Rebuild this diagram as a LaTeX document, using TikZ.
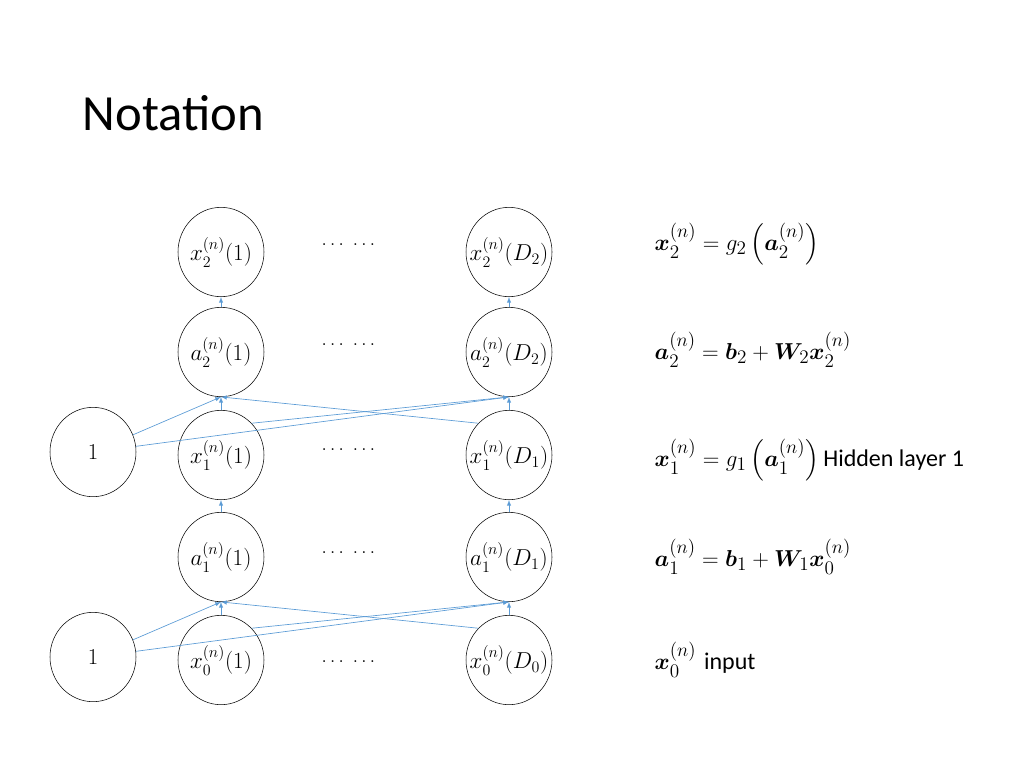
\documentclass[tikz,border=0pt]{standalone}
\usepackage{amsmath,bm}
\usepackage{fontspec}
\setsansfont{Carlito}
\usetikzlibrary{shapes.geometric}
\begin{document}
\begin{tikzpicture}[x=0.75pt,y=-0.75pt,
  neur/.style={draw,ellipse,minimum width=64.5pt,minimum height=67pt,inner sep=0pt,font=\fontsize{17}{19}\selectfont},
  edge/.style={draw={rgb,255:red,91;green,155;blue,213},line width=0.5pt,-latex},
  dts/.style={font=\fontsize{15}{17}\selectfont},
  eq/.style={anchor=west,font=\fontsize{19}{22}\selectfont}]
\useasboundingbox (0,0) rectangle (1024,768);
\node[anchor=west,font=\sffamily\fontsize{38}{44}\selectfont] (title) at (78,113) {Notation};
\foreach \r/\y/\t/\d in {x2/252/x_2/D_2, a2/352/a_2/D_2, x1/455/x_1/D_1, a1/557/a_1/D_1, x0/660/x_0/D_0}{
  \node[neur] (\r l) at (221,\y) {\makebox[0pt]{$\t^{(n)}(1)$}};
  \node[neur] (\r r) at (509,\y) {\makebox[0pt]{$\t^{(n)}(\d)$}};
}
\node[dts] (d1) at (350,245) {$\dots\ \dots$};
\node[dts] (d2) at (350,345) {$\dots\ \dots$};
\node[dts] (d3) at (350,450) {$\dots\ \dots$};
\node[dts] (d4) at (350,553) {$\dots\ \dots$};
\node[dts] (d5) at (350,662) {$\dots\ \dots$};
\node[neur] (b1) at (93,452) {1};
\node[neur] (b0) at (93,657) {1};
\foreach \a/\b in {a2/x2, x1/a2, a1/x1, x0/a1}{
  \draw[edge] (\a l) -- (\b l);
  \draw[edge] (\a r) -- (\b r);
}
\foreach \lo/\hi/\b in {x1/a2/b1, x0/a1/b0}{
  \draw[edge] (\b) -- (\hi l.south);
  \draw[edge] (\b) -- (\hi r.south);
  \draw[edge] (\lo l.north east) -- (\hi r.south);
  \draw[edge] (\lo r.north west) -- (\hi l.south);
}
\node[eq] (e1) at (650,244) {$\bm{x}_2^{(n)}=g_2\left(\bm{a}_2^{(n)}\right)$};
\node[eq] (e2) at (650,350) {$\bm{a}_2^{(n)}=\bm{b}_2+\bm{W}_2\bm{x}_2^{(n)}$};
\node[eq] (e3) at (650,460) {$\bm{x}_1^{(n)}=g_1\left(\bm{a}_1^{(n)}\right)$\,{\sffamily\fontsize{18}{20}\selectfont Hidden layer 1}};
\node[eq] (e4) at (650,557) {$\bm{a}_1^{(n)}=\bm{b}_1+\bm{W}_1\bm{x}_0^{(n)}$};
\node[eq] (e5) at (650,660) {$\bm{x}_0^{(n)}$ {\sffamily\fontsize{18}{20}\selectfont input}};
\end{tikzpicture}
\end{document}
